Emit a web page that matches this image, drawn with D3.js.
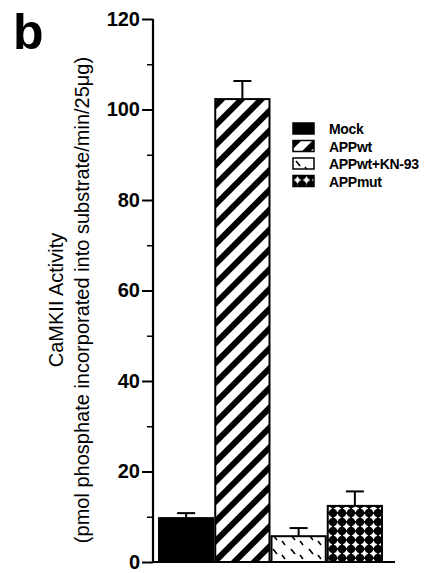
<!DOCTYPE html>
<html>
<head>
<meta charset="utf-8">
<script src="https://cdn.jsdelivr.net/npm/d3@7"></script>
<style>
  body { margin: 0; background: #fff; }
  svg { display: block; font-family: "Liberation Sans", Arial, sans-serif; }
</style>
</head>
<body>
<div id="chart"></div>
<script>
var groups = ["Mock", "APPwt", "APPwt+KN-93", "APPmut"];
var values = [9.7, 102.3, 5.7, 12.4];
var errors = [1.1, 4.0, 1.8, 3.2];
var yTicks = [0, 20, 40, 60, 80, 100, 120];
var yMinor = [10, 30, 50, 70, 90, 110];
var fills = ["#000", "url(#stripes)", "url(#dashes)", "url(#cross)"];

var width = 425, height = 573;

var svg = d3.select("#chart").append("svg")
    .attr("width", width)
    .attr("height", height);

var defs = svg.append("defs");

// diagonal stripes for APPwt
var p1 = defs.append("pattern")
    .attr("id", "stripes")
    .attr("patternUnits", "userSpaceOnUse")
    .attr("width", 14).attr("height", 14)
    .attr("patternTransform", "rotate(45)");
p1.append("rect").attr("width", 14).attr("height", 14).attr("fill", "#fff");
p1.append("rect").attr("width", 6).attr("height", 14).attr("fill", "#000");

// sparse dashes for APPwt+KN-93
var p2 = defs.append("pattern")
    .attr("id", "dashes")
    .attr("patternUnits", "userSpaceOnUse")
    .attr("width", 18).attr("height", 14);
p2.append("rect").attr("width", 18).attr("height", 14).attr("fill", "#fff");
p2.append("line").attr("x1", 3).attr("y1", 3).attr("x2", 7).attr("y2", 8)
    .attr("stroke", "#000").attr("stroke-width", 1.6);
p2.append("line").attr("x1", 12).attr("y1", 9).attr("x2", 15).attr("y2", 13)
    .attr("stroke", "#000").attr("stroke-width", 1.6);

// black ground with white four-point stars for APPmut
var p3 = defs.append("pattern")
    .attr("id", "cross")
    .attr("patternUnits", "userSpaceOnUse")
    .attr("width", 9).attr("height", 9);
p3.append("rect").attr("width", 9).attr("height", 9).attr("fill", "#000");
p3.append("path")
    .attr("d", "M4.5,0.6 L5.9,3.1 L8.4,4.5 L5.9,5.9 L4.5,8.4 L3.1,5.9 L0.6,4.5 L3.1,3.1 Z")
    .attr("fill", "#fff");

var y = d3.scaleLinear().domain([0, 120]).range([562, 19]);
var x = d3.scaleBand().domain(groups).range([158, 383]).padding(0);

// y axis
var yAxis = d3.axisLeft(y).tickValues(yTicks).tickSize(11).tickPadding(2);
var gy = svg.append("g").attr("transform", "translate(153,0)").call(yAxis);
gy.select(".domain").attr("stroke", "#000").attr("stroke-width", 2.2)
    .attr("d", "M0," + y(120) + "V" + y(0));
gy.selectAll(".tick line").attr("stroke", "#000").attr("stroke-width", 2);
gy.selectAll(".tick text")
    .attr("font-size", 20).attr("font-weight", "bold").attr("fill", "#000")
    .attr("font-family", "'Liberation Sans', Arial, sans-serif");

var gm = svg.append("g").attr("transform", "translate(153,0)")
    .call(d3.axisLeft(y).tickValues(yMinor).tickSize(6).tickFormat(""));
gm.select(".domain").remove();
gm.selectAll(".tick line").attr("stroke", "#000").attr("stroke-width", 1.5);

// x axis line
svg.append("line")
    .attr("x1", 152).attr("x2", 395)
    .attr("y1", y(0)).attr("y2", y(0))
    .attr("stroke", "#000").attr("stroke-width", 2.2);

// error bars (upper only)
var eb = svg.append("g").selectAll("g").data(groups).join("g");
eb.append("line")
    .attr("x1", function(d) { return x(d) + x.bandwidth() / 2; })
    .attr("x2", function(d) { return x(d) + x.bandwidth() / 2; })
    .attr("y1", function(d, i) { return y(values[i]); })
    .attr("y2", function(d, i) { return y(values[i] + errors[i]); })
    .attr("stroke", "#000").attr("stroke-width", 2);
eb.append("line")
    .attr("x1", function(d) { return x(d) + x.bandwidth() / 2 - 9; })
    .attr("x2", function(d) { return x(d) + x.bandwidth() / 2 + 9; })
    .attr("y1", function(d, i) { return y(values[i] + errors[i]); })
    .attr("y2", function(d, i) { return y(values[i] + errors[i]); })
    .attr("stroke", "#000").attr("stroke-width", 2);

// bars
svg.append("g").selectAll("rect").data(groups).join("rect")
    .attr("x", function(d) { return x(d) + 1; })
    .attr("width", x.bandwidth() - 2)
    .attr("y", function(d, i) { return y(values[i]); })
    .attr("height", function(d, i) { return y(0) - y(values[i]); })
    .attr("fill", function(d, i) { return fills[i]; })
    .attr("stroke", "#000").attr("stroke-width", 2);

// legend
var lg = svg.append("g").attr("transform", "translate(293,123)");
var li = lg.selectAll("g").data(groups).join("g")
    .attr("transform", function(d, i) { return "translate(0," + i * 17.5 + ")"; });
li.append("rect")
    .attr("width", 21).attr("height", 11)
    .attr("fill", function(d, i) { return fills[i]; })
    .attr("stroke", "#000").attr("stroke-width", 1.5);
li.append("text")
    .attr("x", 36).attr("y", 11)
    .attr("font-size", 14).attr("font-weight", "bold")
    .attr("letter-spacing", -0.3)
    .text(function(d) { return d; });

// y axis title
var title = svg.append("g").attr("transform", "translate(0,300) rotate(-90)");
title.append("text")
    .attr("x", 0).attr("y", 63)
    .attr("text-anchor", "middle")
    .attr("font-size", 20)
    .text("CaMKII Activity");
title.append("text")
    .attr("x", 0).attr("y", 89)
    .attr("text-anchor", "middle")
    .attr("font-size", 20)
    .text("(pmol phosphate incorporated into substrate/min/25\u03bcg)");

// panel letter
svg.append("text")
    .attr("x", 13).attr("y", 49)
    .attr("font-size", 50).attr("font-weight", "bold")
    .text("b");
</script>
</body>
</html>
